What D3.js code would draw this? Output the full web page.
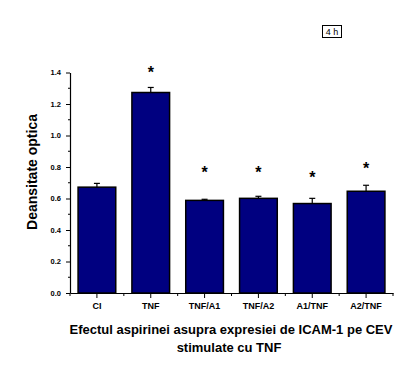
<!DOCTYPE html>
<html>
<head>
<meta charset="utf-8">
<script src="https://cdn.jsdelivr.net/npm/d3@7"></script>
<style>
  body { margin: 0; background: #fff; }
  text { font-family: "Liberation Sans", Arial, sans-serif; }
</style>
</head>
<body>
<div id="chart"></div>
<script>
// data
var groups = ["CI", "TNF", "TNF/A1", "TNF/A2", "A1/TNF", "A2/TNF"];
var means  = [0.672, 1.273, 0.588, 0.601, 0.568, 0.646];
var errs   = [0.024, 0.032, 0.007, 0.013, 0.033, 0.038];
// where the "*" marks sit (y value), null = no mark
var stars  = [null, 1.42, 0.79, 0.785, 0.755, 0.815];
var yTicks = [0, 0.2, 0.4, 0.6, 0.8, 1.0, 1.2, 1.4];
var yMinor = [0.1, 0.3, 0.5, 0.7, 0.9, 1.1, 1.3];

var W = 416, H = 375;
var mLeft = 70, mRight = 393, mTop = 72.5, mBottom = 293;

var svg = d3.select("#chart").append("svg")
    .attr("width", W)
    .attr("height", H);

var x = d3.scaleBand()
    .domain(groups)
    .range([mLeft, mRight])
    .paddingInner(0.3)
    .paddingOuter(0.15);

var y = d3.scaleLinear()
    .domain([0, 1.4])
    .range([mBottom, mTop]);

// bars
svg.append("g")
  .selectAll("rect")
  .data(groups)
  .enter().append("rect")
    .attr("x", function(d) { return x(d); })
    .attr("y", function(d, i) { return y(means[i]); })
    .attr("width", x.bandwidth())
    .attr("height", function(d, i) { return y(0) - y(means[i]); })
    .attr("fill", "#000080")
    .attr("stroke", "#000")
    .attr("stroke-width", 1.5);

// error bars (upper half only)
var eb = svg.append("g").attr("stroke", "#000").attr("stroke-width", 1.2);
groups.forEach(function(d, i) {
  var cx = x(d) + x.bandwidth() / 2;
  eb.append("line")
    .attr("x1", cx).attr("x2", cx)
    .attr("y1", y(means[i])).attr("y2", y(means[i] + errs[i]));
  eb.append("line")
    .attr("x1", cx - 3).attr("x2", cx + 3)
    .attr("y1", y(means[i] + errs[i])).attr("y2", y(means[i] + errs[i]));
});

// significance stars
svg.append("g")
  .selectAll("text")
  .data(groups.filter(function(d, i) { return stars[i] != null; }))
  .enter().append("text")
    .attr("x", function(d) { return x(d) + x.bandwidth() / 2; })
    .attr("y", function(d) { return y(stars[groups.indexOf(d)]) + 9; })
    .attr("text-anchor", "middle")
    .attr("font-size", 16)
    .attr("font-weight", "bold")
    .text("*");

// y axis
var yAxis = svg.append("g")
    .attr("transform", "translate(" + mLeft + ",0)")
    .call(d3.axisLeft(y).tickValues(yTicks).tickFormat(d3.format(".1f"))
      .tickSize(4).tickSizeOuter(0).tickPadding(5));
yAxis.selectAll("text").attr("font-size", 7.5).attr("font-weight", "bold");
yAxis.select(".domain").attr("stroke-width", 1.2);
svg.append("g")
    .attr("transform", "translate(" + mLeft + ",0)")
  .selectAll("line")
  .data(yMinor)
  .enter().append("line")
    .attr("x1", -2).attr("x2", 0)
    .attr("y1", function(d) { return y(d); })
    .attr("y2", function(d) { return y(d); })
    .attr("stroke", "#000");

// x axis
var xAxis = svg.append("g")
    .attr("transform", "translate(0," + mBottom + ")")
    .call(d3.axisBottom(x).tickSize(5).tickSizeOuter(0).tickPadding(5));
xAxis.selectAll("text").attr("font-size", 9).attr("font-weight", "bold");
xAxis.select(".domain").attr("stroke-width", 1.2);
var bounds = d3.range(groups.length + 1).map(function(i) { return mLeft + i * x.step(); });
svg.append("g")
    .attr("transform", "translate(0," + mBottom + ")")
  .selectAll("line")
  .data(bounds)
  .enter().append("line")
    .attr("x1", function(d) { return d; })
    .attr("x2", function(d) { return d; })
    .attr("y1", 0).attr("y2", 3)
    .attr("stroke", "#000");

// axis titles
svg.append("text")
    .attr("transform", "translate(37," + 172 + ") rotate(-90)")
    .attr("text-anchor", "middle")
    .attr("font-size", 14)
    .attr("font-weight", "bold")
    .text("Deansitate optica");

svg.append("text")
    .attr("x", 231).attr("y", 334)
    .attr("text-anchor", "middle")
    .attr("font-size", 13)
    .attr("font-weight", "bold")
    .text("Efectul aspirinei asupra expresiei de ICAM-1 pe CEV");
svg.append("text")
    .attr("x", 229).attr("y", 352)
    .attr("text-anchor", "middle")
    .attr("font-size", 13)
    .attr("font-weight", "bold")
    .text("stimulate cu TNF");

// "4 h" box
svg.append("rect")
    .attr("x", 322.5).attr("y", 25.5)
    .attr("width", 19).attr("height", 12)
    .attr("fill", "none")
    .attr("stroke", "#000")
    .attr("stroke-width", 1);
svg.append("text")
    .attr("x", 332).attr("y", 35)
    .attr("text-anchor", "middle")
    .attr("font-size", 9)
    .text("4 h");
</script>
</body>
</html>
